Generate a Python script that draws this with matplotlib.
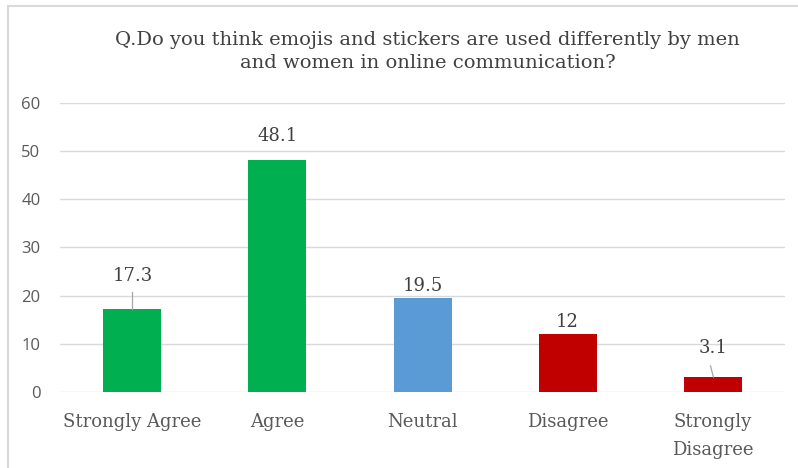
import matplotlib.pyplot as plt
from matplotlib.patches import Rectangle

categories = ["Strongly Agree", "Agree", "Neutral", "Disagree", "Strongly\nDisagree"]
values = [17.3, 48.1, 19.5, 12, 3.1]
value_labels = ["17.3", "48.1", "19.5", "12", "3.1"]
colors = ["#00B050", "#00B050", "#5B9BD5", "#C00000", "#C00000"]
yticks = [0, 10, 20, 30, 40, 50, 60]

plt.rcParams['font.family'] = ['DejaVu Serif']
text_col = "#595959"

fig = plt.figure(figsize=(7.98, 4.68), dpi=100)
ax = fig.add_axes([0.075, 0.1624, 0.909, 0.6176])

x = range(len(categories))
ax.bar(x, values, width=0.4, color=colors, zorder=3)

ax.set_xlim(-0.5, len(categories) - 0.5)
ax.set_ylim(0, 60)
ax.set_yticks(yticks)
ax.set_yticklabels([str(t) for t in yticks], family='Open Sans')
ax.set_xticks(list(x))
ax.set_xticklabels(categories, fontsize=13, color=text_col, linespacing=1.7)
ax.tick_params(axis='y', labelsize=12, colors=text_col, length=0, pad=14)
ax.tick_params(axis='x', length=0, pad=15)
ax.grid(axis='y', color="#D9D9D9", linewidth=1, zorder=0)
for s in ax.spines.values():
    s.set_visible(False)

# how far above each bar its value label sits (data units)
lifts = [6.8, 5.0, 2.4, 2.5, 6.0]

for i, (v, lab) in enumerate(zip(values, value_labels)):
    if i == 0:
        ax.plot([i, i], [v, v + 3.4], color="#A6A6A6", lw=0.9, zorder=4)
    elif i == 4:
        ax.plot([i - 0.015, i + 0.005], [v + 2.3, v], color="#A6A6A6", lw=0.9, zorder=4)
    ax.text(i, v + lifts[i], lab, ha='center', va='center', fontsize=13, color="#404040")

fig.text(0.536, 0.89, "Q.Do you think emojis and stickers are used differently by men\nand women in online communication?",
         ha='center', va='center', fontsize=14, color="#404040", linespacing=1.35)

# outer frame, cut off at right and bottom
fig.patches.append(Rectangle((8 / 798, -0.1), 1.2, 1.1 - 6 / 468, transform=fig.transFigure,
                             fill=False, edgecolor="#D9D9D9", lw=1.5))

fig.savefig("out.png", dpi=100)
